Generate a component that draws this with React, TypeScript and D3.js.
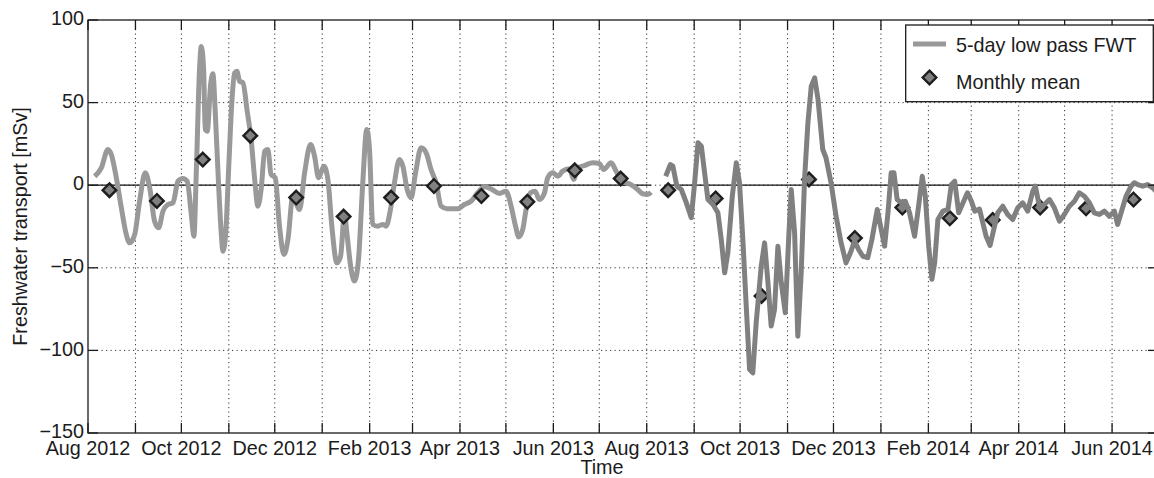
import React from "react";
import * as d3 from "d3";

// Time axis runs from 1 Aug 2012 to 1 Jul 2014 (UTC)
const START = Date.UTC(2012, 7, 1);
const END = Date.UTC(2014, 6, 1);
const DAY = 86400000;

// First deployment: days since 1 Aug 2012, 5-day low pass FWT [mSv]
const dep1Days = [
  4.4, 8.7, 13, 15.2, 18.5, 21.8, 25, 27.2, 30.5, 33.7, 37.4, 40.3, 43.5, 46.1, 49, 52.2, 55.5, 58.8, 62, 64.8,
  67.5, 69.2, 70.7, 72.9, 74, 75.5, 76.6, 77.9, 80.1, 81.6, 83.1, 85.3, 87.1, 88.1, 89.9, 92.1, 94, 95.8, 97.3, 99,
  101.2, 104, 106.7, 108.8, 111, 113.2, 115.4, 117.5, 119.6, 122.3, 125.1, 128, 130.6, 133.8, 138.2, 141.5, 145.4, 148, 150.6, 154.1,
  156.7, 159.3, 162.6, 165, 167.6, 169.1, 171.9, 174.1, 176.7, 179.5, 182.1, 183.9, 186, 189.3, 192.6, 194.7, 197.6, 200.2, 203.5, 205.7,
  208.5, 211.1, 214, 217.6, 220.9, 224.1, 227.4, 230.7, 234.5, 241.6, 245.9, 250.3, 254.6, 259, 263.3, 268.8, 273.1, 276.4, 279.3, 281.4,
  284, 286.2, 289.1, 292, 294.9, 298.2, 300.3, 303.6, 306.9, 310.1, 314.5, 317.3, 319.9, 324.3, 329.7, 334.1, 336.9, 341.7, 345, 349.3,
  354.7, 359.1, 362.3, 365.6, 367.8,
];
const dep1Fwt = [
  5.4, 10.5, 21.6, 18.6, 4.5, -13.7, -29.8, -34.9, -29.8, -9.7, 7.5, -1.6, -21.8, -25.8, -15.7, -11.7, -10.7, 2.4, 4.1, 2.4,
  -17.7, -30.9, 6.5, 71, 84, 71, 33.7, 32.7, 61, 67.4, 44.8, 0.4, -29.8, -40, -29.8, 14.5, 50.8, 68, 69, 63,
  62, 44.8, 26.6, 4.5, -12.7, -1.6, 20.6, 21.6, 6.5, 4.5, -24.8, -42, -32.9, -6.7, -14.7, 7.5, 24.6, 17.6, 4.5, 11.5,
  3.5, -24.8, -47, -43, -16.7, -28.8, -51, -58, -45, 1.5, 33.7, 21.6, -23.8, -24.8, -23.8, -24.8, -14.7, 1.5, 15.6, 11.5,
  -2.6, -7.6, 7.5, 22.6, 19.6, 9.5, 1.5, -12.7, -14.2, -14.3, -11.7, -9.7, -4.6, -1, -2.2, -5, -3.6, -12.7, -24.8, -31.3,
  -26.8, -14.7, -4.6, -3.6, -8.7, -4.6, 4.5, 7.5, 5.4, 8.5, 9.9, 3.5, 10.5, 11.9, 13.6, 13, 9.5, 13.6, 8.5, 2.4,
  0.4, -2.6, -5.2, -5.6, -4.2,
];

// Second deployment: days since 1 Aug 2012, 5-day low pass FWT [mSv]
const dep2Days = [
  377.4, 380.4, 382.1, 384.7, 387.6, 390.9, 394.1, 396.3, 398.5, 400.7, 402.8, 405, 408.3, 411.5, 413.7, 415.9, 418, 420.9, 423.5, 425.6,
  427.8, 430, 432.2, 434.3, 436.5, 439.8, 442, 444.2, 446.3, 448.5, 450.7, 452.9, 455.5, 457.9, 459.4, 461.6, 463.7, 465.9, 468.1, 470.3,
  472.5, 474.7, 476.9, 480, 482.1, 485.4, 488.7, 492, 495.2, 498.1, 500.7, 503.4, 506.2, 509.4, 512.1, 515.6, 518.2, 520.4, 522.6, 524.7,
  526.5, 528.6, 531.3, 533.9, 536.7, 540, 542.6, 545, 547, 549.2, 551.3, 553.1, 555.2, 558.5, 561.8, 564, 566.2, 568.8, 571.6, 574.5,
  577.1, 579.3, 582.4, 586.7, 589.3, 592.2, 594.3, 597.6, 600.8, 604.1, 607.4, 610.6, 613.9, 617.2, 618.9, 621.5, 624.8, 628.1, 631.3, 634.6,
  637.8, 641.1, 644.4, 647.6, 650.9, 654.2, 657.4, 660.7, 664, 667.2, 670.5, 672.6, 674.9, 678.1, 681.4, 683.5, 685.7, 689, 692.2, 695.5,
  698,
];
const dep2Fwt = [
  5.4, 12.5, 11.5, -0.6, -2.6, -10.7, -19.7, 1.5, 25.7, 23.6, 7.5, -8.7, -11.7, -16.7, -32.9, -53, -40.9, -6.7, 13.6, 1.5,
  -32.9, -73, -111.6, -113.6, -83.3, -49, -34.9, -59, -85.3, -75.2, -36.9, -59, -77.2, -28.8, -2.6, -28.8, -91.4, -53, 3.5, 37.8,
  60, 65, 51.9, 21.6, 16.6, 1.5, -18.8, -34.9, -47, -40.9, -33.9, -38.9, -43, -43.9, -32.9, -14.7, -26.8, -36.9, -16.7, 7.5,
  7.5, -8.7, -10.7, -9.7, -16.7, -30.9, -12.7, 5.4, -6.7, -36.9, -57, -47, -20.8, -15.7, -14.7, 0.4, 2.4, -16.7, -10.7, -4.6,
  -9.7, -15.7, -14.5, -30.9, -36.5, -24.8, -16.7, -12.7, -17.7, -20.8, -13.7, -10.7, -15.7, -3.6, -0.6, -12.7, -11.7, -8.7, -13.7, -21.8,
  -17.7, -12.7, -9.7, -4.6, -6.7, -10.7, -16.7, -17.7, -15.7, -18.8, -15.7, -23.8, -16.7, -6.7, -0.6, 1.5, 0.4, -0.6, 0.4, -1.6,
  -4,
];

// Monthly means, plotted mid-month
const meanMonths = [
  "2012-08", "2012-09", "2012-10", "2012-11", "2012-12", "2013-01", "2013-02", "2013-03", "2013-04", "2013-05", "2013-06", "2013-07",
  "2013-08", "2013-09", "2013-10", "2013-11", "2013-12", "2014-01", "2014-02", "2014-03", "2014-04", "2014-05", "2014-06",
];
const meanFwt = [
  -3, -9.5, 15.5, 30, -7.5, -19, -7.5, -0.5, -6.5, -10, 9, 4,
  -3, -8, -67, 3.5, -32, -13.5, -20, -21, -13.5, -14, -8.7,
];

const yTicks = [100, 50, 0, -50, -100, -150];

const FONT = "'Liberation Sans', Arial, Helvetica, sans-serif";
const TEXT = "#1c1c1c";
const LINE1 = "#999999";
const LINE2 = "#808080";

const diamondPath = (r: number) => `M0,${-r}L${r},0L0,${r}L${-r},0Z`;

export default function App() {
  const W = 1154;
  const H = 478;
  const left = 88, right = 1158, top = 20, bottom = 433;

  const x = d3.scaleUtc().domain([new Date(START), new Date(END)]).range([left, right]);
  const y = d3.scaleLinear().domain([-150, 100]).range([bottom, top]);
  const dayDate = (d: number) => new Date(START + d * DAY);

  const smooth = d3
    .line<[number, number]>()
    .x((p) => x(dayDate(p[0])))
    .y((p) => y(p[1]))
    .curve(d3.curveMonotoneX);
  const path1 = smooth(dep1Days.map((d, i) => [d, dep1Fwt[i]] as [number, number])) || "";
  const sharp = d3
    .line<[number, number]>()
    .x((p) => x(dayDate(p[0])))
    .y((p) => y(p[1]));
  const path2 = sharp(dep2Days.map((d, i) => [d, dep2Fwt[i]] as [number, number])) || "";

  const months = d3.utcMonth.range(new Date(START), new Date(END));
  const fmt = d3.utcFormat("%b %Y");
  const meanPts = meanMonths.map((m, i) => {
    const [yy, mm] = m.split("-").map(Number);
    return { date: new Date(Date.UTC(yy, mm - 1, 15)), v: meanFwt[i] };
  });

  const tickLen = 10;
  const fmtY = (v: number) => (v < 0 ? "\u2212" + Math.abs(v) : String(v));
  const R = 6.8;

  return (
    <svg
      width={W}
      height={H}
      style={{ position: "absolute", left: 0, top: 0, background: "#fff" }}
      fontFamily={FONT}
    >
      <defs>
        <clipPath id="plot-area">
          <rect x={left} y={top} width={right - left} height={bottom - top} />
        </clipPath>
      </defs>
      <rect x={0} y={0} width={W} height={H} fill="#fff" />

      {/* dotted grid */}
      <g stroke="#333" strokeWidth={1} strokeDasharray="1.2,3.3">
        {months.slice(1).map((m, i) => (
          <line key={"gx" + i} x1={x(m)} x2={x(m)} y1={top} y2={bottom} />
        ))}
        {yTicks
          .filter((v) => v !== 100 && v !== -150)
          .map((v) => (
            <line key={"gy" + v} x1={left} x2={right} y1={y(v)} y2={y(v)} />
          ))}
      </g>

      {/* zero reference, one piece per deployment */}
      <g stroke="#111" strokeWidth={1.2}>
        <line x1={left} x2={x(dayDate(dep1Days[dep1Days.length - 1]))} y1={y(0)} y2={y(0)} />
        <line x1={x(dayDate(dep2Days[0]))} x2={right} y1={y(0)} y2={y(0)} />
      </g>

      <g clipPath="url(#plot-area)">
        <path d={path1} fill="none" stroke={LINE1} strokeWidth={5} strokeLinejoin="round" strokeLinecap="butt" />
        {meanPts.map((p, i) => (
          <path
            key={"m" + i}
            d={diamondPath(R)}
            transform={`translate(${x(p.date)},${y(p.v)})`}
            fill="#808080"
            stroke="#1e1e1e"
            strokeWidth={2.4}
          />
        ))}
        <path d={path2} fill="none" stroke={LINE2} strokeWidth={5} strokeLinejoin="round" strokeLinecap="butt" />
      </g>

      {/* frame and ticks */}
      <g stroke="#1a1a1a" strokeWidth={1.3}>
        <rect x={left} y={top} width={right - left} height={bottom - top} fill="none" />
        {months.map((m, i) => (
          <g key={"tx" + i}>
            <line x1={x(m)} x2={x(m)} y1={bottom} y2={bottom - tickLen} />
            <line x1={x(m)} x2={x(m)} y1={top} y2={top + tickLen} />
          </g>
        ))}
        {yTicks.map((v) => (
          <g key={"ty" + v}>
            <line x1={left} x2={left + tickLen} y1={y(v)} y2={y(v)} />
            <line x1={right} x2={right - tickLen} y1={y(v)} y2={y(v)} />
          </g>
        ))}
      </g>

      {/* tick labels */}
      <g fill={TEXT} fontSize={19.8}>
        {months.map((m, i) =>
          i % 2 === 0 ? (
            <text key={"lx" + i} x={x(m)} y={455} textAnchor="middle">
              {fmt(m)}
            </text>
          ) : null
        )}
        {yTicks.map((v) => (
          <text key={"ly" + v} x={left - 4} y={y(v) - 2} dy="0.36em" textAnchor="end">
            {fmtY(v)}
          </text>
        ))}
      </g>

      {/* axis titles */}
      <text x={602} y={474} textAnchor="middle" fontSize={19.8} fill={TEXT}>
        Time
      </text>
      <text
        transform={`translate(27,${(top + bottom) / 2}) rotate(-90)`}
        textAnchor="middle"
        fontSize={19.8}
        fill={TEXT}
      >
        Freshwater transport [mSv]
      </text>

      {/* legend */}
      <g>
        <rect x={905.7} y={25} width={247.6} height={76.7} fill="#fff" stroke="#1a1a1a" strokeWidth={1.3} />
        <line x1={913} x2={946} y1={44} y2={44} stroke={LINE1} strokeWidth={5} />
        <text x={956} y={51.5} fontSize={19.8} fill={TEXT}>
          5-day low pass FWT
        </text>
        <path d={diamondPath(R)} transform="translate(929.5,77.5)" fill="#808080" stroke="#1e1e1e" strokeWidth={2.4} />
        <text x={956} y={88.5} fontSize={19.8} fill={TEXT}>
          Monthly mean
        </text>
      </g>
    </svg>
  );
}
